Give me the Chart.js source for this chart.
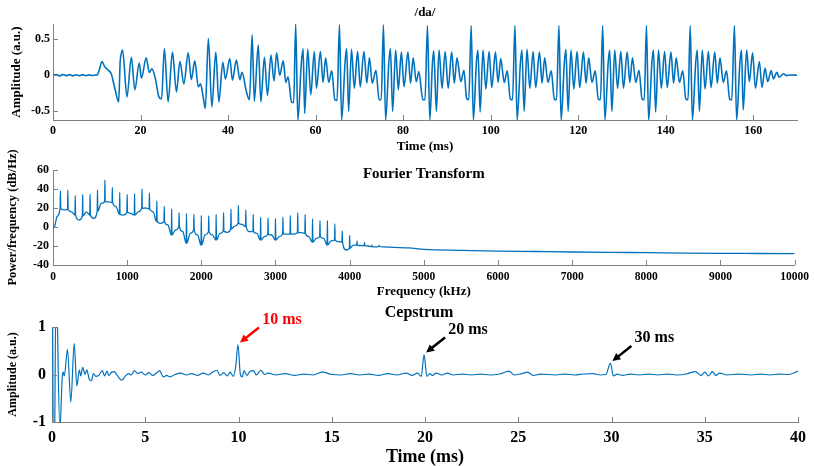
<!DOCTYPE html>
<html>
<head>
<meta charset="utf-8">
<script src="https://cdn.jsdelivr.net/npm/chart.js@4.4.0/dist/chart.umd.min.js"></script>
<style>
  html, body { margin: 0; padding: 0; background: #fff; }
  #wrap { position: relative; width: 814px; height: 466px; }
  canvas { position: absolute; left: 0; }
</style>
</head>
<body>
<div id="wrap">
  <canvas id="wave" width="814" height="155" style="top:0"></canvas>
  <canvas id="fft" width="814" height="165" style="top:145px"></canvas>
  <canvas id="cep" width="814" height="166" style="top:300px"></canvas>
</div>
<script>
// ---- data ----

// speech waveform /da/ (time in ms, amplitude), one pitch period per line
const waveTime = [
  0, 0.8, 1.5, 2.2, 3.0, 3.8, 4.5, 5.3, 6.0, 6.8, 7.5, 8.3, 9.0, 9.7, 10.2,
  10.6, 11.2, 11.8, 12.6, 13.3, 14.2, 15.0, 15.35, 15.6, 15.9, 16.9, 17.9, 18.7, 19.7, 20.2, 21.3, 22.0, 22.6, 23.4, 24.2, 24.8,
  25.45, 26.3, 27.3, 28.2, 29.0, 29.9, 30.9, 31.6, 32.4, 33.2, 33.7, 34.3, 34.8,
  35.5, 36.3, 37.2, 37.9, 38.8, 39.4, 40.4, 41.0, 41.9, 42.7, 43.2, 44.2, 44.9,
  45.5, 46.0, 46.9, 47.5, 48.3, 49.0, 49.8, 50.5, 51.1, 51.8, 52.6, 53.2, 53.7, 54.5, 55.0,
  55.45, 55.95, 56.75, 57.15, 57.5, 58.2, 58.9, 59.7, 60.2, 61.1, 61.7, 62.3, 63.0, 63.7, 64.4, 64.9,
  65.45, 65.95, 66.75, 67.1, 67.55, 68.2, 68.85, 69.6, 70.2, 71.05, 71.7, 72.3, 72.95, 73.8, 74.5, 75.0,
  75.5, 76.0, 76.75, 77.1, 77.6, 78.3, 78.9, 79.6, 80.2, 81.1, 81.7, 82.3, 83.0, 83.6, 84.5, 85.0,
  85.56, 86.1, 86.7, 87.0, 87.6, 88.2, 88.9, 89.6, 90.3, 91.1, 91.7, 92.3, 93.2, 93.9, 94.5, 95.0,
  95.55, 96.05, 96.75, 97.1, 97.6, 98.25, 98.9, 99.65, 100.25, 101.1, 101.7, 102.3, 103.1, 103.8, 104.5, 105.0,
  105.55, 106.05, 106.8, 107.15, 107.65, 108.3, 108.95, 109.7, 110.3, 111.15, 111.75, 112.35, 113.1, 113.85, 114.55, 115.05,
  115.6, 116.1, 116.85, 117.2, 117.7, 118.35, 119.0, 119.75, 120.35, 121.2, 121.8, 122.4, 123.15, 123.9, 124.6, 125.1,
  125.6, 126.1, 126.85, 127.2, 127.7, 128.35, 129.0, 129.75, 130.35, 131.2, 131.8, 132.4, 133.15, 133.9, 134.6, 135.1,
  135.6, 136.1, 136.85, 137.2, 137.7, 138.35, 139.0, 139.75, 140.35, 141.2, 141.8, 142.4, 143.15, 143.9, 144.6, 145.1,
  145.6, 146.1, 146.85, 147.2, 147.7, 148.35, 149.0, 149.75, 150.35, 151.2, 151.8, 152.4, 153.15, 153.9, 154.6, 155.1,
  155.7, 156.2, 156.95, 157.33, 157.7, 158.5, 159.1, 159.85, 160.5, 161.4, 162.0, 162.7, 163.3, 164.1, 164.6, 165.4, 165.9, 166.9, 167.6, 168.5, 170
];
const waveAmp = [
  0, 0.01, -0.01, 0.01, -0.005, 0.008, -0.008, 0.006, -0.006, 0.008, -0.005, 0.005, -0.004, 0.003, 0.01,
  0.08, 0.19, 0.12, 0.07, 0.02, -0.2, -0.37, 0.19, 0.30, 0.35, -0.30, 0.25, -0.20, 0.17, -0.04, 0.24, 0.04, 0.09, -0.05, -0.30, -0.33,
  0.37, -0.37, 0.32, -0.23, 0.19, -0.12, 0.31, -0.06, 0.20, -0.16, -0.12, -0.30, -0.46,
  0.51, -0.44, 0.32, -0.37, 0.18, -0.05, 0.23, -0.07, 0.21, -0.06, 0.04, -0.23, -0.34,
  0.56, -0.36, 0.42, -0.37, 0.25, -0.28, 0.28, -0.08, 0.31, 0.0, 0.20, -0.1, -0.02, -0.37, -0.38,
  0.71, -0.62, 0.17, 0.37, -0.53, 0.36, -0.27, 0.33, -0.18, 0.33, -0.10, 0.24, -0.10, 0.06, -0.34, -0.35,
  0.70, -0.62, 0.19, 0.37, -0.50, 0.36, -0.18, 0.33, -0.16, 0.33, -0.11, 0.24, -0.11, 0.07, -0.34, -0.34,
  0.70, -0.62, 0.19, 0.37, -0.50, 0.35, -0.20, 0.32, -0.16, 0.32, -0.11, 0.24, -0.09, 0.05, -0.34, -0.34,
  0.69, -0.62, 0.17, 0.34, -0.50, 0.35, -0.18, 0.33, -0.18, 0.32, -0.11, 0.24, -0.09, 0.07, -0.32, -0.34,
  0.69, -0.62, 0.18, 0.35, -0.51, 0.35, -0.19, 0.33, -0.17, 0.32, -0.10, 0.23, -0.10, 0.06, -0.33, -0.34,
  0.69, -0.62, 0.17, 0.35, -0.50, 0.36, -0.18, 0.33, -0.17, 0.32, -0.11, 0.24, -0.10, 0.06, -0.33, -0.34,
  0.69, -0.62, 0.18, 0.36, -0.50, 0.35, -0.19, 0.33, -0.17, 0.32, -0.11, 0.24, -0.10, 0.06, -0.33, -0.34,
  0.69, -0.62, 0.17, 0.35, -0.50, 0.35, -0.18, 0.33, -0.18, 0.32, -0.10, 0.24, -0.10, 0.07, -0.33, -0.34,
  0.69, -0.62, 0.18, 0.35, -0.51, 0.35, -0.18, 0.33, -0.17, 0.32, -0.11, 0.24, -0.10, 0.06, -0.33, -0.34,
  0.69, -0.62, 0.17, 0.35, -0.50, 0.35, -0.19, 0.33, -0.17, 0.32, -0.11, 0.24, -0.10, 0.06, -0.33, -0.34,
  0.69, -0.62, 0.17, 0.35, -0.48, 0.35, -0.09, 0.31, -0.18, 0.19, -0.17, 0.10, -0.09, 0.065, -0.05, 0.04, -0.03, 0.02, -0.005, 0.003, 0
];

// spectrum: smooth envelope between harmonics (Hz, dB/Hz)
const envHz = [
  0, 25, 55,
  150, 250, 350, 450, 550, 650, 750, 850, 950, 1050,
  1150, 1250, 1350, 1450, 1550, 1650, 1750, 1850, 1950, 2050,
  2150, 2250, 2350, 2450, 2550, 2650, 2750, 2850, 2950, 3050,
  3150, 3250, 3350, 3450, 3550, 3650, 3750, 3850, 3950, 4050,
  4150, 4250, 4350, 4450,
  4600, 4800, 5000, 5500, 6000, 6500, 7000, 7500, 8000, 8500, 9000, 9500, 10000
];
const envDb = [
  -2, 1.4, 11,
  18, 16, 7.4, 16, 9.1, 24.9, 26.5, 21.4, 12.6, 14.4,
  16, 20, 16, 3.9, 2.1, -3.2, -4.9, -6.7, -8.4, -8.4,
  -8.4, -6.7, -5.6, 1, 2.8, -4.9, -6.7, -10.2, -8.4, -10.2,
  -7.4, -7.4, -6, -10.2, -11.9, -11.9, -14.7, -15.4, -24.2, -19,
  -19.5, -20, -21, -21,
  -21.5, -22, -23.5, -24.5, -25.3, -25.8, -26.3, -26.7, -27.0, -27.4, -27.7, -27.9, -28.1
];
// harmonic spikes: frequency, level at foot, level at tip
const harmHz = [
  100, 200, 300, 400, 500, 600, 700, 800, 900, 1000,
  1100, 1200, 1300, 1400, 1500, 1600, 1700, 1800, 1900, 2000,
  2100, 2200, 2300, 2400, 2500, 2600, 2700, 2800, 2900, 3000,
  3100, 3200, 3300, 3400, 3500, 3600, 3700, 3800, 3900, 4000,
  4100, 4200, 4300, 4400
];
const harmBaseDb = [
  19.6, 18.6, 12.6, 11.6, 12.6, 16.8, 26.7, 25.6, 13.3, 15.4,
  12.6, 19.6, 19, 5.6, 5.6, -8.4, 0.4, -17.2, -3.2, -19,
  -4.9, -13.7, -4.2, -2.1, 3.9, 0.4, -4.9, -13.7, -7.7, -13.7,
  -7.4, -7.4, -6, -6.7, -16.1, -10.2, -19, -13.7, -16, -22.5,
  -19, -19.6, -20.7, -20.5
];
const harmTopDb = [
  37.9, 39, 33, 34.4, 34.7, 39.3, 49.5, 41.8, 36.5, 34.4,
  35, 40.4, 36, 27.7, 21.8, 19, 15, 14.4, 13.3, 12.3,
  11.6, 13.3, 15, 19, 22.8, 17.9, 13.3, 10.5, 9.5, 9.1,
  10.5, 12.3, 15, 13.3, 8.8, 6.7, 7, 3.2, -4.2, -8.8,
  -14.7, -16.1, -19, -19.3
];

// cepstrum (quefrency in ms, amplitude)
const cepTime = [
  0, 0.1, 0.22, 0.42, 0.56, 0.6, 0.66, 0.83, 1.01, 1.19,
  1.33, 1.47, 1.54, 1.65, 1.77, 1.86, 2.0, 2.12, 2.22, 2.35,
  2.5, 2.7, 2.82, 2.95, 3.05, 3.2, 3.33, 3.5, 3.74, 3.92,
  4.1, 4.25, 4.42, 4.6, 4.8, 5.0, 5.2, 5.4, 5.6, 5.76,
  5.97, 6.15, 6.33, 6.6, 6.9, 7.2, 7.5, 7.8, 8.1, 8.4,
  8.6, 8.85, 9.0, 9.2, 9.4, 9.55, 9.72, 9.86, 9.97, 10.1,
  10.2, 10.3, 10.45, 10.6, 10.8, 10.95, 11.2, 11.4, 11.6, 12.0,
  12.5, 13.0, 13.5, 14.0, 14.5, 15.0, 15.5, 16.0, 16.5, 17.0,
  17.5, 18.0, 18.5, 19.0, 19.3, 19.6, 19.8, 19.95, 20.1, 20.25,
  20.4, 20.6, 20.9, 21.2, 21.5, 22.0, 22.5, 23.0, 23.5, 24.0,
  24.5, 24.8, 25.2, 25.5, 25.8, 26.2, 27.0, 27.5, 28.0, 28.5,
  29.0, 29.4, 29.7, 29.94, 30.1, 30.3, 30.6, 31.0, 31.5, 32.0,
  32.5, 33.0, 33.5, 34.0, 34.5, 34.8, 35.0, 35.2, 35.4, 35.6,
  35.8, 36.2, 36.8, 37.5, 38.0, 38.5, 39.0, 39.5, 40.0
];
const cepAmp = [
  4, -3, 2, -1.15, 0, 0.05, -0.03, 0.53, -0.58, 0.65,
  -0.24, 0.1, -0.03, 0.15, 0, 0.1, -0.1, -0.13, 0.02, -0.04,
  -0.02, 0.08, -0.03, 0.07, -0.02, 0.05, 0.06, -0.02, -0.12, -0.04,
  0.02, -0.01, 0.08, 0.02, 0.05, -0.01, 0.04, -0.02, 0.03, 0.08,
  -0.05, -0.02, -0.05, 0, 0.03, -0.01, 0.02, -0.02, 0.03, -0.01,
  0.05, 0.09, -0.02, 0.04, -0.03, 0.05, -0.04, 0.2, 0.63, 0,
  -0.05, 0.08, -0.02, 0.06, 0.08, -0.01, 0.09, 0, 0.03, -0.01,
  0.02, -0.02, 0.01, -0.01, 0.05, 0, -0.01, 0.02, -0.01, 0.01,
  -0.02, 0.02, -0.01, 0.03, -0.02, 0.03, -0.04, 0.42, -0.04, 0.02,
  -0.02, 0.03, -0.01, 0.03, -0.01, 0.01, -0.01, 0.01, -0.01, 0.01,
  0.07, -0.01, 0.02, 0.05, -0.02, 0.01, -0.01, 0.01, -0.01, 0.01,
  0.02, -0.01, 0, 0.24, -0.03, 0.01, -0.02, 0.01, -0.01, 0.01,
  -0.01, 0.01, -0.01, 0.01, 0.06, -0.02, 0.05, -0.03, 0.06, -0.02,
  0.03, -0.01, 0.01, -0.01, 0.01, -0.01, 0.01, 0, 0.07
];

// labelled cepstral peaks
const peakLabels = ['10 ms', '20 ms', '30 ms'];
const peakTime = [9.97, 19.95, 29.94];
const peakAmp = [0.63, 0.42, 0.24];
const peakColors = ['#ff0000', '#000000', '#000000'];

// tick values
const waveXTicks = [0, 20, 40, 60, 80, 100, 120, 140, 160];
const waveYTicks = [-0.5, 0, 0.5];
const fftXTicks = [0, 1000, 2000, 3000, 4000, 5000, 6000, 7000, 8000, 9000, 10000];
const fftYTicks = [-40, -20, 0, 20, 40, 60];
const cepXTicks = [0, 5, 10, 15, 20, 25, 30, 35, 40];
const cepYTicks = [-1, 0, 1];

// ---- styling ----
const SERIF = '"Liberation Serif", "Times New Roman", serif';
const BLUE = '#0072BD';
const AXIS_GREY = '#808080';

Chart.defaults.font.family = SERIF;
Chart.defaults.color = '#000';

function toPoints(xs, ys) {
  const n = Math.min(xs.length, ys.length);
  const pts = [];
  for (let i = 0; i < n; i++) pts.push({ x: xs[i], y: ys[i] });
  return pts;
}

// envelope plus a thin spike at every harmonic
function spectrumPoints() {
  const pts = toPoints(envHz, envDb);
  harmHz.forEach((f, i) => {
    pts.push({ x: f - 4, y: harmBaseDb[i] });
    pts.push({ x: f, y: harmTopDb[i] });
    pts.push({ x: f + 4, y: harmBaseDb[i] });
  });
  return pts.sort((a, b) => a.x - b.x);
}

function axis(o) {
  return {
    type: 'linear',
    min: o.min,
    max: o.max,
    afterBuildTicks: s => { s.ticks = o.ticks.map(v => ({ value: v })); },
    afterFit: s => { if (o.horizontal) s.height = o.fit; else s.width = o.fit; },
    ticks: {
      font: { size: o.tickSize, weight: 'bold', family: SERIF },
      color: '#000',
      padding: o.tickPad,
      maxRotation: 0,
      autoSkip: false,
      callback: v => String(v)
    },
    grid: { display: true, drawOnChartArea: false, drawTicks: false },
    border: { display: true, color: AXIS_GREY, width: 1 },
    title: {
      display: true,
      text: o.title,
      color: '#000',
      font: { size: o.titleSize, weight: 'bold', family: SERIF, lineHeight: o.titleLine || 1.2 },
      padding: o.horizontal ? { top: 0, bottom: o.titlePad } : { top: o.titlePad, bottom: 0 }
    }
  };
}

// MATLAB-like ticks pointing into the axes
const inwardTicks = {
  id: 'inwardTicks',
  afterDraw(chart) {
    const { ctx, chartArea: a, scales: { x, y } } = chart;
    ctx.save();
    ctx.strokeStyle = AXIS_GREY;
    ctx.lineWidth = 1;
    ctx.beginPath();
    x.ticks.forEach(t => {
      const px = Math.round(x.getPixelForValue(t.value)) + 0.5;
      ctx.moveTo(px, a.bottom);
      ctx.lineTo(px, a.bottom - 5);
    });
    y.ticks.forEach(t => {
      const py = Math.round(y.getPixelForValue(t.value)) + 0.5;
      ctx.moveTo(a.left, py);
      ctx.lineTo(a.left + 5, py);
    });
    ctx.stroke();
    ctx.restore();
  }
};

const plotTitle = {
  id: 'plotTitle',
  afterDraw(chart, args, opts) {
    const { ctx, chartArea: a } = chart;
    ctx.save();
    ctx.font = 'bold ' + opts.size + 'px ' + SERIF;
    ctx.fillStyle = '#000';
    ctx.textAlign = 'center';
    ctx.textBaseline = 'middle';
    ctx.fillText(opts.text, (a.left + a.right) / 2 + (opts.dx || 0), opts.y);
    ctx.restore();
  }
};

// arrows + labels pointing at the cepstral peaks
const peakArrows = {
  id: 'peakArrows',
  afterDraw(chart) {
    const { ctx, scales: { x, y } } = chart;
    ctx.save();
    peakLabels.forEach((label, i) => {
      const tipX = x.getPixelForValue(peakTime[i]) + 2;
      const tipY = y.getPixelForValue(peakAmp[i]) - 2;
      const tailX = tipX + 19, tailY = tipY - 15;
      const len = Math.hypot(tailX - tipX, tailY - tipY);
      const ux = (tailX - tipX) / len, uy = (tailY - tipY) / len;
      const head = 8, half = 4;
      ctx.strokeStyle = peakColors[i];
      ctx.fillStyle = peakColors[i];
      ctx.lineWidth = 2.5;
      ctx.beginPath();
      ctx.moveTo(tailX, tailY);
      ctx.lineTo(tipX + ux * head * 0.8, tipY + uy * head * 0.8);
      ctx.stroke();
      ctx.beginPath();
      ctx.moveTo(tipX, tipY);
      ctx.lineTo(tipX + ux * head - uy * half, tipY + uy * head + ux * half);
      ctx.lineTo(tipX + ux * head + uy * half, tipY + uy * head - ux * half);
      ctx.closePath();
      ctx.fill();
      ctx.font = 'bold 16px ' + SERIF;
      ctx.textAlign = 'center';
      ctx.textBaseline = 'middle';
      ctx.fillText(label, tipX + 42, tipY - 23);
    });
    ctx.restore();
  }
};

function lineChart(id, points, lineWidth, padding, titleOpts, scales, extra) {
  return new Chart(document.getElementById(id), {
    type: 'line',
    data: {
      datasets: [{
        data: points,
        borderColor: BLUE,
        borderWidth: lineWidth,
        pointRadius: 0,
        fill: false,
        cubicInterpolationMode: 'monotone'
      }]
    },
    options: {
      responsive: false,
      animation: false,
      devicePixelRatio: 1,
      layout: { padding: padding },
      plugins: {
        legend: { display: false },
        tooltip: { enabled: false },
        plotTitle: titleOpts
      },
      scales: scales
    },
    plugins: [inwardTicks, plotTitle].concat(extra || [])
  });
}

// top: waveform
lineChart('wave', toPoints(waveTime, waveAmp), 1.6,
  { top: 24, right: 17, left: 0, bottom: 0 },
  { text: '/da/', size: 13, y: 12.5 },
  {
    x: axis({ min: 0, max: 170, ticks: waveXTicks, tickSize: 12, tickPad: 4, title: 'Time (ms)', titleSize: 13, titlePad: 1, horizontal: true, fit: 35 }),
    y: axis({ min: -0.62, max: 0.71, ticks: waveYTicks, tickSize: 12, tickPad: 3, title: 'Amplitude (a.u.)', titleSize: 13, titlePad: 9, fit: 53 })
  });

// middle: spectrum (canvas starts at y=145 so the long y title fits)
lineChart('fft', spectrumPoints(), 1.3,
  { top: 25, right: 17, left: 0, bottom: 0 },
  { text: 'Fourier Transform', size: 15, y: 29 },
  {
    x: axis({ min: 0, max: 10000, ticks: fftXTicks, tickSize: 11.5, tickPad: 5, title: 'Frequency (kHz)', titleSize: 13, titlePad: 10.5, horizontal: true, fit: 45 }),
    y: axis({ min: -40, max: 60, ticks: fftYTicks, tickSize: 12, tickPad: 4, title: 'Power/frequency (dB/Hz)', titleSize: 12.5, titlePad: 5.5, fit: 53 })
  });

// bottom: cepstrum
lineChart('cep', toPoints(cepTime, cepAmp), 1.2,
  { top: 27, right: 16, left: 0, bottom: 0 },
  { text: 'Cepstrum', size: 16, y: 13.3, dx: -6 },
  {
    x: axis({ min: 0, max: 40, ticks: cepXTicks, tickSize: 16, tickPad: 6, title: 'Time (ms)', titleSize: 18, titlePad: 0, titleLine: 1.0, horizontal: true, fit: 44 }),
    y: axis({ min: -1, max: 1, ticks: cepYTicks, tickSize: 16, tickPad: 6, title: 'Amplitude (a.u.)', titleSize: 12, titlePad: 5.5, fit: 52 })
  },
  [peakArrows]);
</script>
</body>
</html>
